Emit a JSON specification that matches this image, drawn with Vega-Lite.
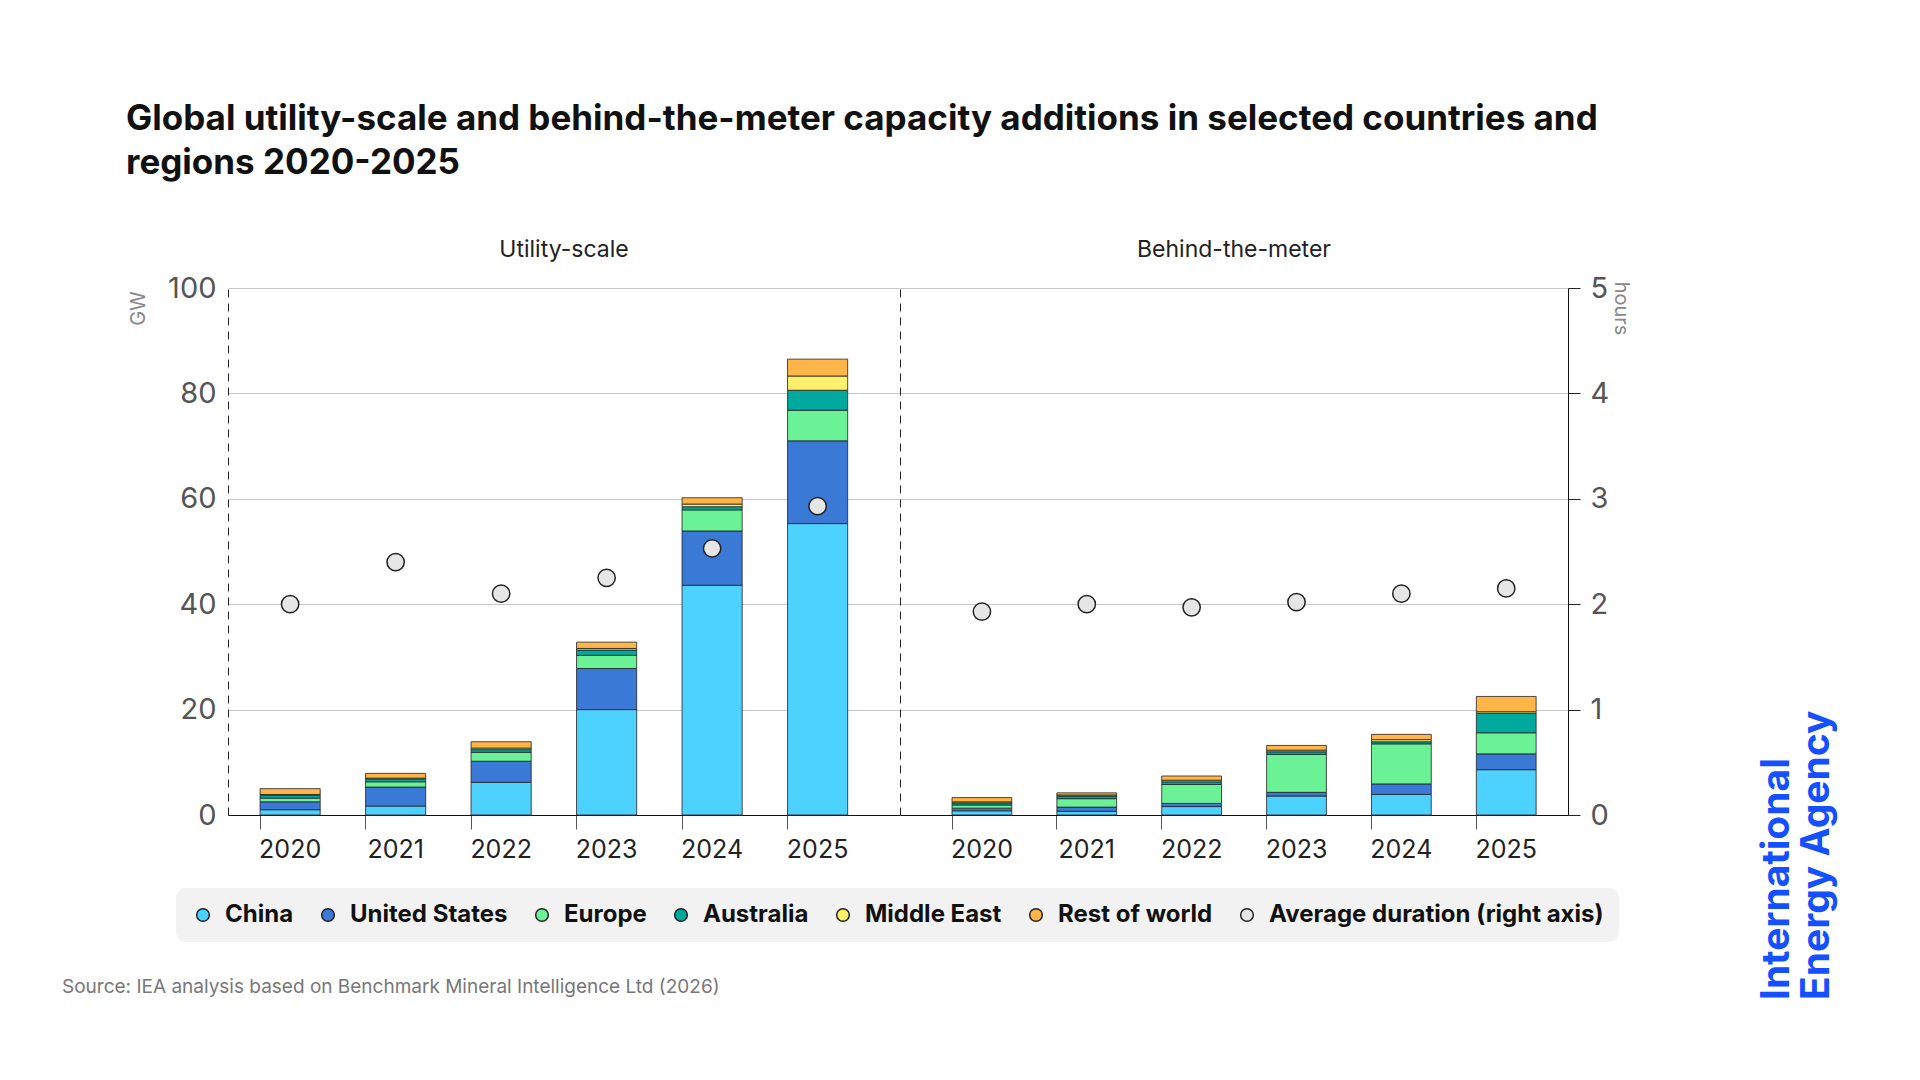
{
  "$schema": "https://vega.github.io/schema/vega-lite/v6.json",
  "background": "white",
  "padding": {"left": 62, "top": 102, "right": 20, "bottom": 20},
  "title": {
    "text": ["Global utility-scale and behind-the-meter capacity additions in selected countries and", "regions 2020-2025"],
    "anchor": "start", "font": "Inter", "fontSize": 35, "fontWeight": "bold", "color": "#111",
    "lineHeight": 44, "offset": 58, "dx": 64
  },
  "config": {
    "font": "Inter",
    "view": {"stroke": null},
    "concat": {"spacing": 0}
  },
  "datasets": {
    "cap": [
      {"seg": "U", "year": "2020", "region": "China", "ord": 1, "v": 1.0},
      {"seg": "U", "year": "2020", "region": "United States", "ord": 2, "v": 1.5},
      {"seg": "U", "year": "2020", "region": "Europe", "ord": 3, "v": 0.7},
      {"seg": "U", "year": "2020", "region": "Australia", "ord": 4, "v": 0.5},
      {"seg": "U", "year": "2020", "region": "Middle East", "ord": 5, "v": 0.2},
      {"seg": "U", "year": "2020", "region": "Rest of world", "ord": 6, "v": 1.1},
      {"seg": "U", "year": "2021", "region": "China", "ord": 1, "v": 1.7},
      {"seg": "U", "year": "2021", "region": "United States", "ord": 2, "v": 3.6},
      {"seg": "U", "year": "2021", "region": "Europe", "ord": 3, "v": 1.0},
      {"seg": "U", "year": "2021", "region": "Australia", "ord": 4, "v": 0.5},
      {"seg": "U", "year": "2021", "region": "Middle East", "ord": 5, "v": 0.2},
      {"seg": "U", "year": "2021", "region": "Rest of world", "ord": 6, "v": 0.9},
      {"seg": "U", "year": "2022", "region": "China", "ord": 1, "v": 6.2},
      {"seg": "U", "year": "2022", "region": "United States", "ord": 2, "v": 4.0},
      {"seg": "U", "year": "2022", "region": "Europe", "ord": 3, "v": 1.7},
      {"seg": "U", "year": "2022", "region": "Australia", "ord": 4, "v": 0.5},
      {"seg": "U", "year": "2022", "region": "Middle East", "ord": 5, "v": 0.3},
      {"seg": "U", "year": "2022", "region": "Rest of world", "ord": 6, "v": 1.2},
      {"seg": "U", "year": "2023", "region": "China", "ord": 1, "v": 20.0},
      {"seg": "U", "year": "2023", "region": "United States", "ord": 2, "v": 7.8},
      {"seg": "U", "year": "2023", "region": "Europe", "ord": 3, "v": 2.5},
      {"seg": "U", "year": "2023", "region": "Australia", "ord": 4, "v": 1.0},
      {"seg": "U", "year": "2023", "region": "Middle East", "ord": 5, "v": 0.3},
      {"seg": "U", "year": "2023", "region": "Rest of world", "ord": 6, "v": 1.2},
      {"seg": "U", "year": "2024", "region": "China", "ord": 1, "v": 43.6},
      {"seg": "U", "year": "2024", "region": "United States", "ord": 2, "v": 10.3},
      {"seg": "U", "year": "2024", "region": "Europe", "ord": 3, "v": 4.0},
      {"seg": "U", "year": "2024", "region": "Australia", "ord": 4, "v": 0.6},
      {"seg": "U", "year": "2024", "region": "Middle East", "ord": 5, "v": 0.5},
      {"seg": "U", "year": "2024", "region": "Rest of world", "ord": 6, "v": 1.2},
      {"seg": "U", "year": "2025", "region": "China", "ord": 1, "v": 55.3},
      {"seg": "U", "year": "2025", "region": "United States", "ord": 2, "v": 15.7},
      {"seg": "U", "year": "2025", "region": "Europe", "ord": 3, "v": 5.8},
      {"seg": "U", "year": "2025", "region": "Australia", "ord": 4, "v": 3.8},
      {"seg": "U", "year": "2025", "region": "Middle East", "ord": 5, "v": 2.7},
      {"seg": "U", "year": "2025", "region": "Rest of world", "ord": 6, "v": 3.2},
      {"seg": "B", "year": "2020", "region": "China", "ord": 1, "v": 0.8},
      {"seg": "B", "year": "2020", "region": "United States", "ord": 2, "v": 0.5},
      {"seg": "B", "year": "2020", "region": "Europe", "ord": 3, "v": 0.6},
      {"seg": "B", "year": "2020", "region": "Australia", "ord": 4, "v": 0.4},
      {"seg": "B", "year": "2020", "region": "Middle East", "ord": 5, "v": 0.2},
      {"seg": "B", "year": "2020", "region": "Rest of world", "ord": 6, "v": 0.8},
      {"seg": "B", "year": "2021", "region": "China", "ord": 1, "v": 0.7},
      {"seg": "B", "year": "2021", "region": "United States", "ord": 2, "v": 0.8},
      {"seg": "B", "year": "2021", "region": "Europe", "ord": 3, "v": 1.6},
      {"seg": "B", "year": "2021", "region": "Australia", "ord": 4, "v": 0.5},
      {"seg": "B", "year": "2021", "region": "Middle East", "ord": 5, "v": 0.2},
      {"seg": "B", "year": "2021", "region": "Rest of world", "ord": 6, "v": 0.4},
      {"seg": "B", "year": "2022", "region": "China", "ord": 1, "v": 1.6},
      {"seg": "B", "year": "2022", "region": "United States", "ord": 2, "v": 0.6},
      {"seg": "B", "year": "2022", "region": "Europe", "ord": 3, "v": 3.6},
      {"seg": "B", "year": "2022", "region": "Australia", "ord": 4, "v": 0.5},
      {"seg": "B", "year": "2022", "region": "Middle East", "ord": 5, "v": 0.3},
      {"seg": "B", "year": "2022", "region": "Rest of world", "ord": 6, "v": 0.8},
      {"seg": "B", "year": "2023", "region": "China", "ord": 1, "v": 3.6},
      {"seg": "B", "year": "2023", "region": "United States", "ord": 2, "v": 0.7},
      {"seg": "B", "year": "2023", "region": "Europe", "ord": 3, "v": 7.2},
      {"seg": "B", "year": "2023", "region": "Australia", "ord": 4, "v": 0.5},
      {"seg": "B", "year": "2023", "region": "Middle East", "ord": 5, "v": 0.3},
      {"seg": "B", "year": "2023", "region": "Rest of world", "ord": 6, "v": 0.9},
      {"seg": "B", "year": "2024", "region": "China", "ord": 1, "v": 3.9},
      {"seg": "B", "year": "2024", "region": "United States", "ord": 2, "v": 2.0},
      {"seg": "B", "year": "2024", "region": "Europe", "ord": 3, "v": 7.6},
      {"seg": "B", "year": "2024", "region": "Australia", "ord": 4, "v": 0.4},
      {"seg": "B", "year": "2024", "region": "Middle East", "ord": 5, "v": 0.4},
      {"seg": "B", "year": "2024", "region": "Rest of world", "ord": 6, "v": 1.0},
      {"seg": "B", "year": "2025", "region": "China", "ord": 1, "v": 8.6},
      {"seg": "B", "year": "2025", "region": "United States", "ord": 2, "v": 3.0},
      {"seg": "B", "year": "2025", "region": "Europe", "ord": 3, "v": 4.0},
      {"seg": "B", "year": "2025", "region": "Australia", "ord": 4, "v": 3.7},
      {"seg": "B", "year": "2025", "region": "Middle East", "ord": 5, "v": 0.3},
      {"seg": "B", "year": "2025", "region": "Rest of world", "ord": 6, "v": 2.9}
    ],
    "dur": [
      {"seg": "U", "year": "2020", "h": 2.0, "s": "Average duration (right axis)"},
      {"seg": "U", "year": "2021", "h": 2.4, "s": "Average duration (right axis)"},
      {"seg": "U", "year": "2022", "h": 2.1, "s": "Average duration (right axis)"},
      {"seg": "U", "year": "2023", "h": 2.25, "s": "Average duration (right axis)"},
      {"seg": "U", "year": "2024", "h": 2.53, "s": "Average duration (right axis)"},
      {"seg": "U", "year": "2025", "h": 2.93, "s": "Average duration (right axis)"},
      {"seg": "B", "year": "2020", "h": 1.93, "s": "Average duration (right axis)"},
      {"seg": "B", "year": "2021", "h": 2.0, "s": "Average duration (right axis)"},
      {"seg": "B", "year": "2022", "h": 1.97, "s": "Average duration (right axis)"},
      {"seg": "B", "year": "2023", "h": 2.02, "s": "Average duration (right axis)"},
      {"seg": "B", "year": "2024", "h": 2.1, "s": "Average duration (right axis)"},
      {"seg": "B", "year": "2025", "h": 2.15, "s": "Average duration (right axis)"}
    ],
    "src": [{"t": "Source: IEA analysis based on Benchmark Mineral Intelligence Ltd (2026)"}],
    "logo": [{"t": "International"}, {"t": "Energy Agency"}]
  },
  "hconcat": [
    {
      "title": {"text": "Utility-scale", "fontSize": 23, "fontWeight": "normal", "color": "#222", "offset": 12},
      "width": 672,
      "height": 527,
      "layer": [
        {
          "data": {"name": "cap"},
          "transform": [{"filter": "datum.seg == 'U'"}],
          "mark": {"type": "bar", "stroke": "#222", "strokeWidth": 1, "strokeOpacity": 0.8},
          "encoding": {
            "x": {"field": "year", "type": "ordinal", "title": null,
              "scale": {"paddingInner": 0.43, "paddingOuter": 0.4, "align": 0.38},
              "axis": {"labelAngle": 0, "labelFontSize": 25, "labelColor": "#222", "labelPadding": 8, "domainColor": "#111", "tickColor": "#555", "tickSize": 14, "bandPosition": 0}},
            "y": {"field": "v", "type": "quantitative", "aggregate": "sum", "stack": "zero",
              "scale": {"domain": [0, 100]},
              "axis": {"title": "GW", "titleAngle": -90, "titleFontSize": 20, "titleFontWeight": "normal", "titleColor": "#888", "titleX": -80, "titleY": 20,
                "values": [0, 20, 40, 60, 80, 100], "labelFontSize": 29, "labelColor": "#555", "labelPadding": 12, "ticks": false,
                "domainDash": [8, 6], "domainColor": "#222", "gridColor": "#c8c8c8"}},
            "color": {"field": "region", "type": "nominal",
              "scale": {"domain": ["China", "United States", "Europe", "Australia", "Middle East", "Rest of world", "Average duration (right axis)"],
                "range": ["#4dd2ff", "#3b79d6", "#6cf296", "#00a99d", "#fdf06a", "#ffb547", "#e6e6e6"]},
              "legend": {"title": null, "orient": "none", "direction": "horizontal", "legendX": -52, "legendY": 600,
                "labelFontSize": 24, "labelFontWeight": "bold", "labelColor": "#111", "labelLimit": 0, "symbolType": "circle", "symbolSize": 160, "labelOffset": 10,
                "columnPadding": 22, "fillColor": "#f2f2f2", "cornerRadius": 10, "padding": 15,
                "encode": {"symbols": {"update": {"stroke": {"signal": "datum.label == 'Average duration (right axis)' ? '#333' : 'transparent'"}, "strokeWidth": {"value": 1}}}}}},
            "order": {"field": "ord", "type": "quantitative"}
          }
        },
        {
          "data": {"name": "dur"},
          "transform": [{"filter": "datum.seg == 'U'"}],
          "mark": {"type": "point", "filled": true, "size": 300, "stroke": "#222", "strokeWidth": 1.5, "opacity": 1},
          "encoding": {
            "x": {"field": "year", "type": "ordinal"},
            "y": {"field": "h", "type": "quantitative", "scale": {"domain": [0, 5]}, "axis": null},
            "color": {"field": "s", "type": "nominal"}
          }
        },
        {
          "data": {"name": "src"},
          "mark": {"type": "text", "align": "left", "baseline": "middle", "fontSize": 19, "color": "#777"},
          "encoding": {"text": {"field": "t"}, "x": {"value": -166}, "y": {"value": 699}}
        }
      ],
      "resolve": {"scale": {"y": "independent"}}
    },
    {
      "title": {"text": "Behind-the-meter", "fontSize": 23, "fontWeight": "normal", "color": "#222", "offset": 12},
      "width": 668,
      "height": 527,
      "layer": [
        {
          "data": {"name": "cap"},
          "transform": [{"filter": "datum.seg == 'B'"}],
          "mark": {"type": "bar", "stroke": "#222", "strokeWidth": 1, "strokeOpacity": 0.8},
          "encoding": {
            "x": {"field": "year", "type": "ordinal", "title": null,
              "scale": {"paddingInner": 0.43, "paddingOuter": 0.4, "align": 0.62},
              "axis": {"labelAngle": 0, "labelFontSize": 25, "labelColor": "#222", "labelPadding": 8, "domainColor": "#111", "tickColor": "#555", "tickSize": 14, "bandPosition": 0}},
            "y": {"field": "v", "type": "quantitative", "aggregate": "sum", "stack": "zero",
              "scale": {"domain": [0, 100]},
              "axis": {"title": null, "labels": false, "ticks": false, "values": [0, 20, 40, 60, 80, 100],
                "domainDash": [8, 6], "domainColor": "#222", "gridColor": "#c8c8c8"}},
            "color": {"field": "region", "type": "nominal"},
            "order": {"field": "ord", "type": "quantitative"}
          }
        },
        {
          "data": {"name": "dur"},
          "transform": [{"filter": "datum.seg == 'B'"}],
          "mark": {"type": "point", "filled": true, "size": 300, "stroke": "#222", "strokeWidth": 1.5, "opacity": 1},
          "encoding": {
            "x": {"field": "year", "type": "ordinal"},
            "y": {"field": "h", "type": "quantitative", "scale": {"domain": [0, 5]},
              "axis": {"orient": "right", "title": "hours", "titleAngle": 90, "titleFontSize": 20, "titleFontWeight": "normal", "titleColor": "#888", "titleX": 42, "titleY": 20,
                "values": [0, 1, 2, 3, 4, 5], "labelFontSize": 29, "labelColor": "#555", "labelPadding": 10, "tickColor": "#222", "tickSize": 12, "grid": false, "domainColor": "#111"}},
            "color": {"field": "s", "type": "nominal"}
          }
        }
      ],
      "resolve": {"scale": {"y": "independent"}}
    },
    {
      "width": 190,
      "height": 527,
      "data": {"name": "logo"},
      "mark": {"type": "text", "angle": 270, "fontSize": 39, "fontWeight": "bold", "color": "#1450ff", "align": "left", "baseline": "middle"},
      "encoding": {
        "x": {"field": "t", "type": "nominal", "axis": null, "sort": null, "scale": {"type": "point", "padding": 0, "range": [147, 187]}},
        "y": {"value": 712},
        "text": {"field": "t"}
      }
    }
  ]
}
